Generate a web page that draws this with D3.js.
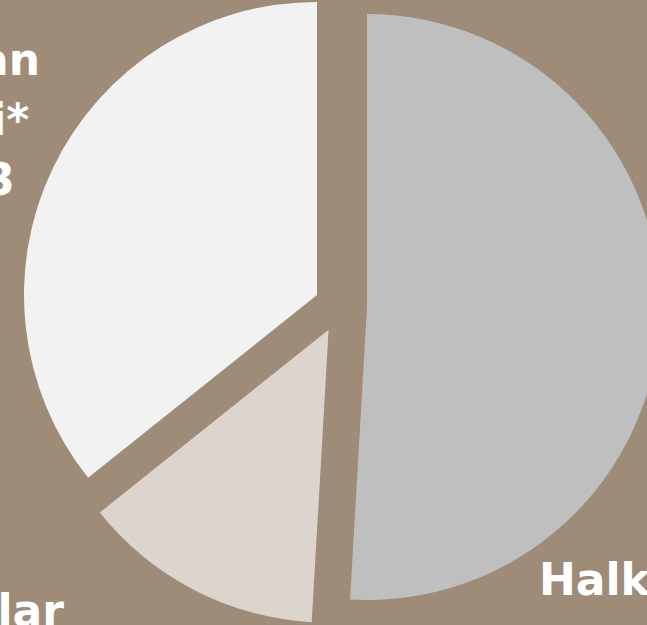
<!DOCTYPE html>
<html><head><meta charset="utf-8">
<script src="https://cdn.jsdelivr.net/npm/d3@7"></script>
<style>html,body{margin:0;padding:0;background:#9e8b78;overflow:hidden}</style>
</head><body><svg id="c" width="647" height="625"></svg>
<script>
// ---- data ----
const categories = ["Halka Açık", "Yatırımcılar", "Kamudan Müşteri*"];
const values = [50.92, 13.35, 35.73];
const colors = ["#bfbfbf", "#dcd4cd", "#f2f2f2"];
const valueLabels = ["%50,92", "%13,35", "%35,73"];
const nameLines = [["Halka Açık"], ["Yatırımcılar"], ["Kamudan", "Müşteri*"]];
const showValue = [false, false, true];

// ---- layout ----
const W = 647, H = 625;
const cx = 340.7, cy = 306.3, R = 293, explode = 26.3;
const fontSize = 44, lineH = 60;
const labelPos = [
  {x: 539, y: 595, anchor: "start"},
  {x: 64, y: 626, anchor: "end"},
  {x: 40, y: 75, anchor: "endOfFirstCentered"}
];

const svg = d3.select("#c");
svg.append("rect").attr("width", W).attr("height", H).attr("fill", "#9e8b78");

const pie = d3.pie().sort(null).value(d => d)(values);
const arc = d3.arc().innerRadius(0).outerRadius(R);
const g = svg.append("g").attr("transform", `translate(${cx},${cy})`);

g.selectAll("path").data(pie).join("path")
  .attr("d", arc)
  .attr("fill", (d, i) => colors[i])
  .attr("transform", d => {
    const m = (d.startAngle + d.endAngle) / 2;
    return `translate(${explode * Math.sin(m)},${-explode * Math.cos(m)})`;
  });

const lg = svg.append("g")
  .attr("font-family", "'DejaVu Sans', sans-serif")
  .attr("font-weight", "bold")
  .attr("font-size", fontSize)
  .attr("fill", "#ffffff");

pie.forEach((d, i) => {
  const lines = showValue[i] ? nameLines[i].concat([valueLabels[i]]) : nameLines[i];
  const p = labelPos[i];
  const t = lg.append("text");
  const anchor = p.anchor === "endOfFirstCentered" ? "middle" : p.anchor;
  t.attr("text-anchor", anchor);
  const spans = lines.map((s, k) => t.append("tspan").attr("y", p.y + k * lineH).text(s));
  let x = p.x;
  if (p.anchor === "endOfFirstCentered") {
    const w = spans[0].node().getComputedTextLength();
    x = p.x - w / 2;
  }
  spans.forEach(s => s.attr("x", x));
});
</script></body></html>
